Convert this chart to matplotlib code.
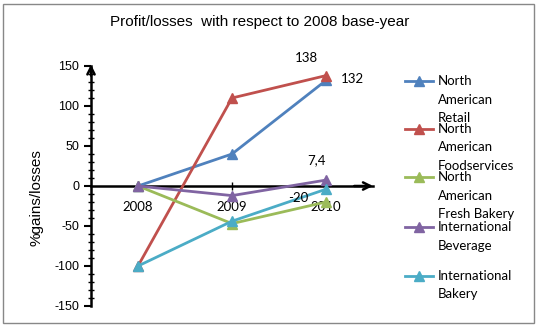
import matplotlib
matplotlib.use("Agg")
import matplotlib.pyplot as plt
from matplotlib.lines import Line2D
from matplotlib.patches import Rectangle

# data
years = ["2008", "2009", "2010"]
series_names = [
    ["North", "American", "Retail"],
    ["North", "American", "Foodservices"],
    ["North", "American", "Fresh Bakery"],
    ["International", "Beverage"],
    ["International", "Bakery"],
]
na_retail = [0, 40, 132]
na_food = [-100, 110, 138]
na_fresh = [0, -47, -20]
int_bev = [0, -12, 7.4]
int_bakery = [-100, -44, -4]
colors = ["#4F81BD", "#C0504D", "#9BBB59", "#8064A2", "#4BACC6"]
yticks = [-150, -100, -50, 0, 50, 100, 150]

all_series = [na_retail, na_food, na_fresh, int_bev, int_bakery]

fig = plt.figure(figsize=(5.37, 3.27), dpi=100)
ax = fig.add_axes([91/537, 1-306/327, (373-91)/537, 240/327])
x = list(range(len(years)))

for vals, c in zip(all_series, colors):
    ax.plot(x, vals, color=c, lw=2, marker="^", ms=7, zorder=3)

ax.set_xlim(-0.5, 2.5)
ax.set_ylim(-150, 150)
ax.spines["top"].set_visible(False)
ax.spines["right"].set_visible(False)
ax.spines["bottom"].set_position(("data", 0))
ax.spines["bottom"].set_linewidth(1.8)
ax.spines["left"].set_linewidth(1.8)
ax.set_xticks(x)
ax.set_xticklabels(years, fontfamily="Lato", fontsize=9.5)
ax.tick_params(axis="x", direction="inout", length=6, width=1, pad=8)
ax.set_yticks(yticks)
ax.set_yticklabels([str(v) for v in yticks], fontfamily="Liberation Sans", fontsize=9)
ax.set_yticks(range(-150, 151, 10), minor=True)
ax.tick_params(axis="y", which="major", direction="out", length=5, width=1.5)
ax.tick_params(axis="y", which="minor", direction="inout", length=4, width=1)

# arrow heads on the axes
ax.annotate("", xy=(-0.5, 152), xytext=(-0.5, 138), annotation_clip=False,
            arrowprops=dict(arrowstyle="->", lw=1.8, color="black", mutation_scale=13,
                            shrinkA=0, shrinkB=0))
ax.annotate("", xy=(2.5, 0), xytext=(2.3, 0), annotation_clip=False,
            arrowprops=dict(arrowstyle="->", lw=1.8, color="black", mutation_scale=13,
                            shrinkA=0, shrinkB=0))

# data labels
lab = dict(fontfamily="Lato", fontsize=9.5, ha="center", va="center", textcoords="offset points")
ax.annotate("138", (2, na_food[2]), xytext=(-14, 13), **lab)
ax.annotate("132", (2, na_retail[2]), xytext=(19, 1), **lab)
ax.annotate("7,4", (2, int_bev[2]), xytext=(-7, 14), **lab)
ax.annotate("-20", (2, na_fresh[2]), xytext=(-20, 3), **lab)

ax.set_ylabel("%gains/losses", fontfamily="Liberation Sans", fontsize=11)
ax.yaxis.set_label_coords(-0.17, 0.45)

fig.text(260/537, 1-22/327, "Profit/losses  with respect to 2008 base-year",
         fontfamily="Liberation Sans", fontsize=11, ha="center", va="center")

# legend, drawn by hand so the handle sits at the first line
first_y = [81, 129, 177, 227, 276]
for names, c, y0 in zip(series_names, colors, first_y):
    fy = 1 - y0/327
    fig.add_artist(Line2D([405/537, 433/537], [fy, fy], color=c, lw=2,
                          transform=fig.transFigure))
    fig.add_artist(Line2D([419/537], [fy], color=c, marker="^", ms=7,
                          transform=fig.transFigure))
    for i, n in enumerate(names):
        fig.text(438/537, 1 - (y0 + i*18.5)/327, n, fontfamily="Lato",
                 fontsize=9.5, va="center", ha="left")

fig.add_artist(Rectangle((3/537, 4/327), 531/537, 319/327, fill=False,
                         edgecolor="#888888", lw=1, transform=fig.transFigure))

fig.savefig("out.png", dpi=100)
